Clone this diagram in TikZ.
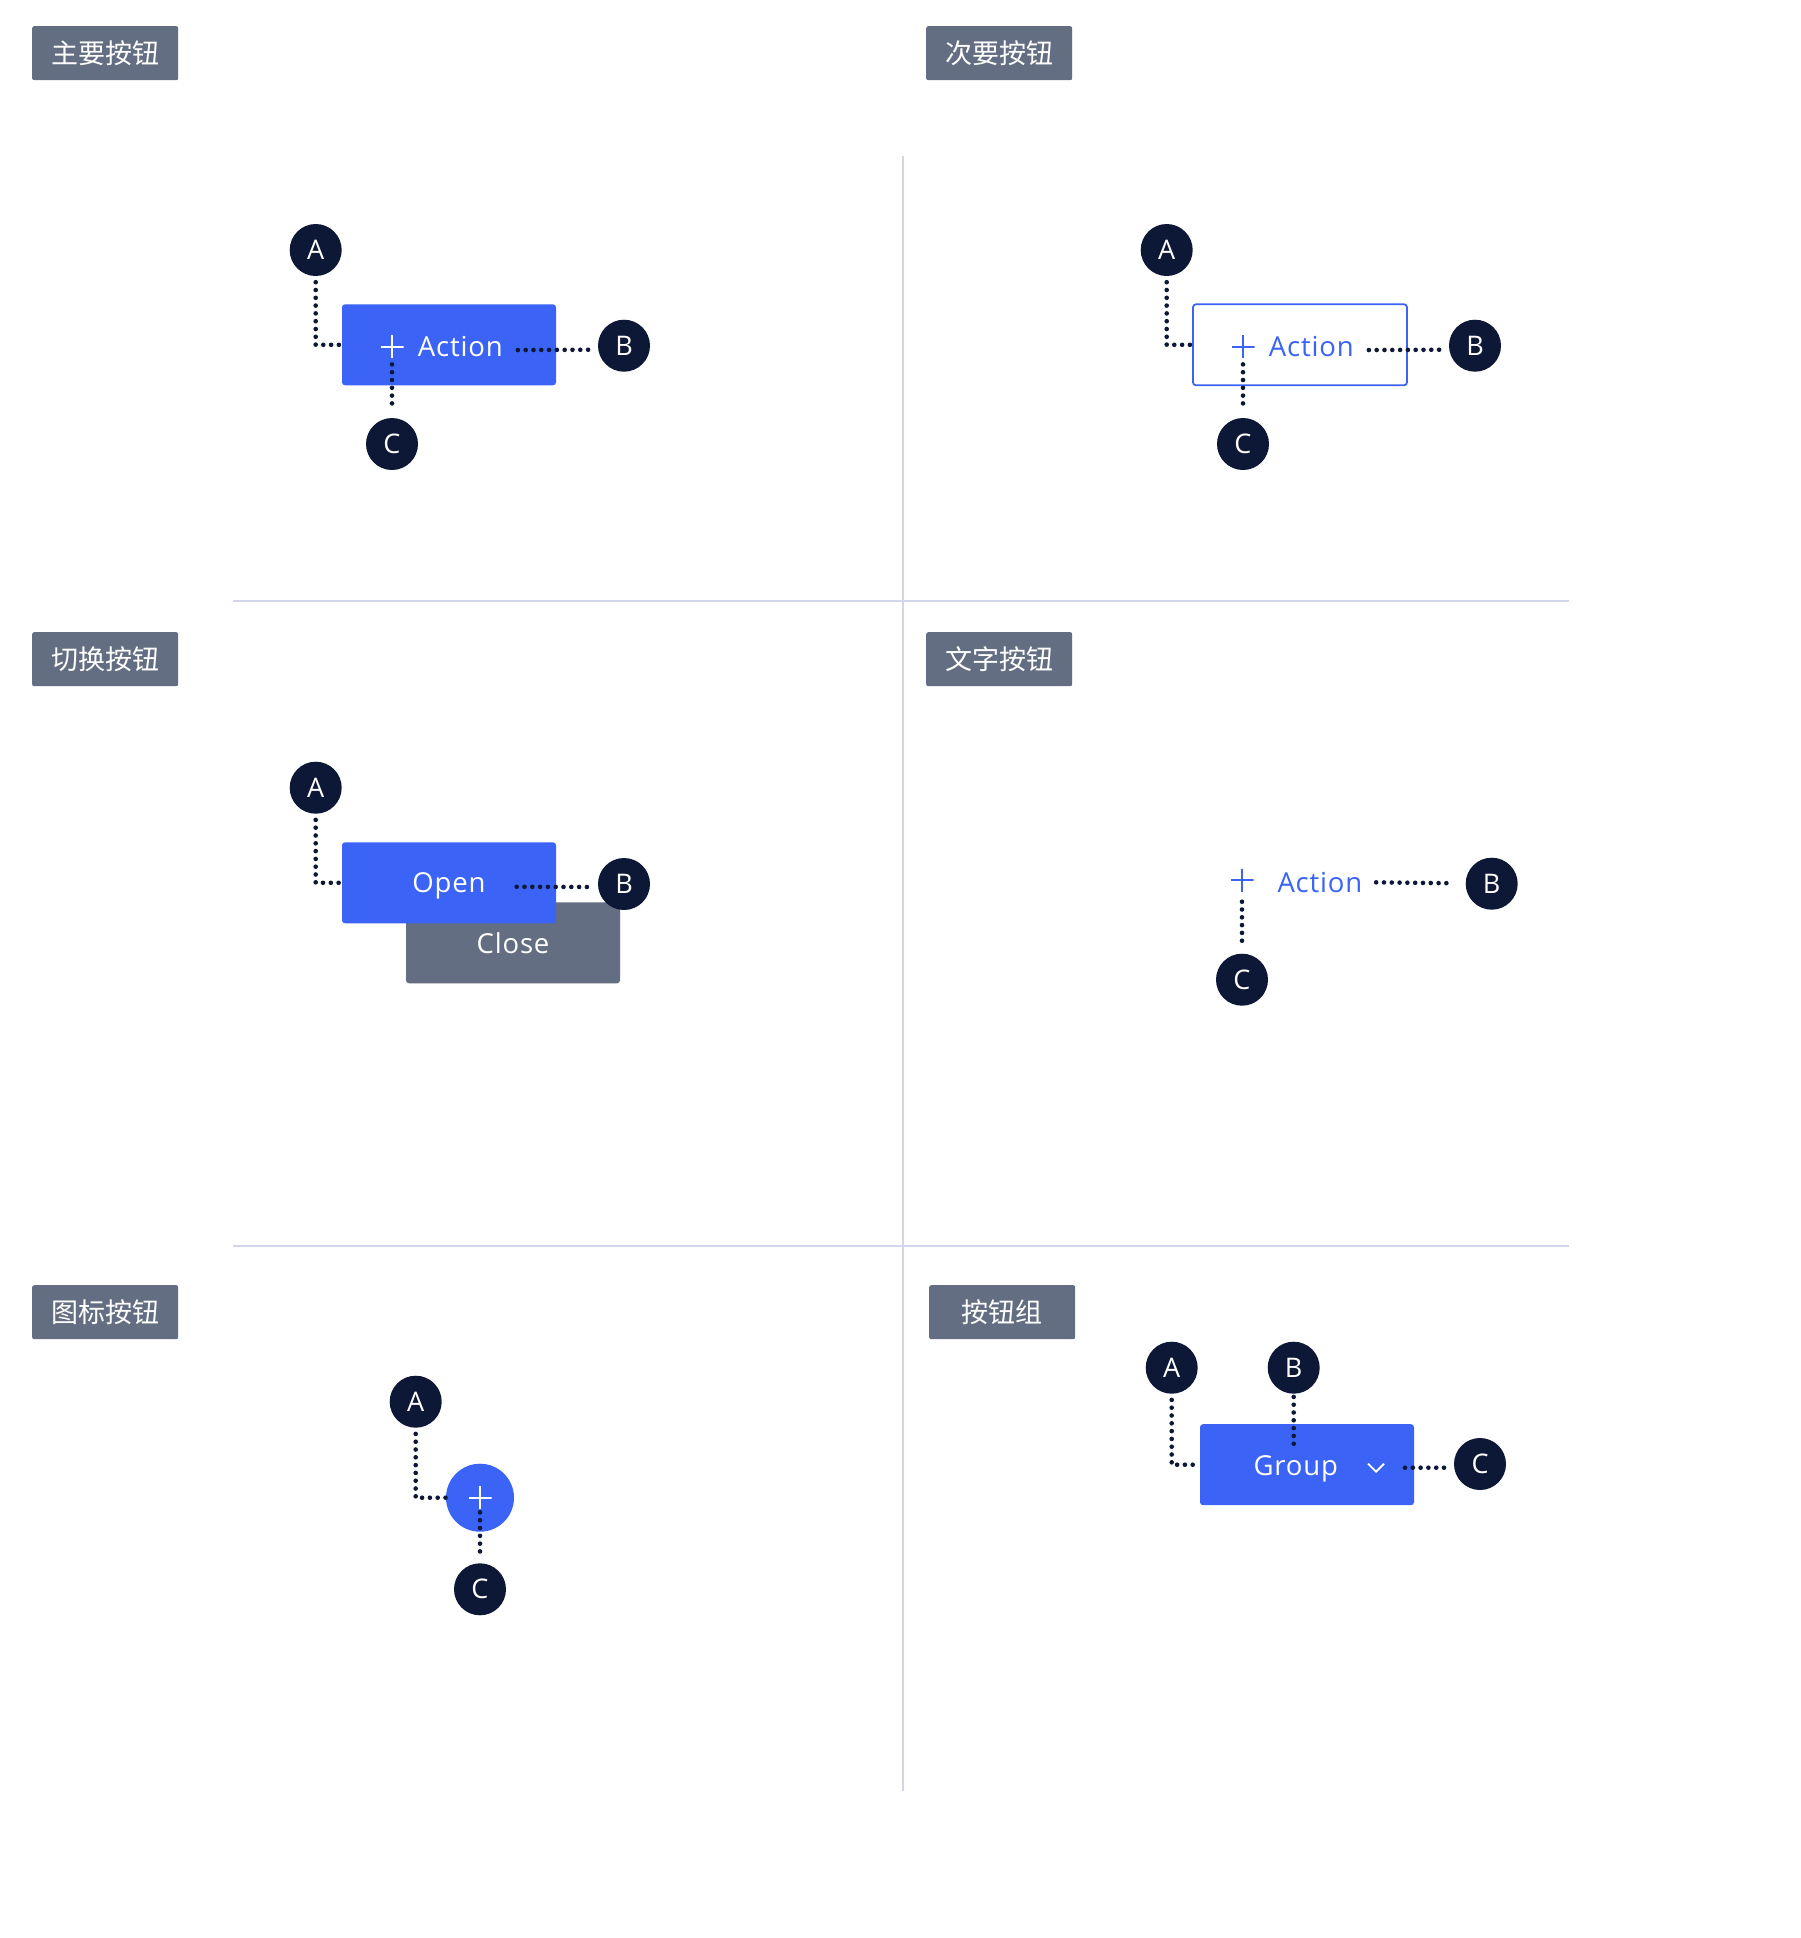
\documentclass[tikz,border=0pt]{standalone}
\usepackage{fontspec}
\setmainfont{Open Sans}[LetterSpace=3]
\newfontfamily\cjk{Noto Sans CJK SC}
\definecolor{btnblue}{HTML}{3B63F5}
\definecolor{navy}{HTML}{0D1836}
\definecolor{slate}{HTML}{646E82}
\definecolor{rulegray}{HTML}{D3D6EA}
\tikzset{
	secttag/.style={fill=slate, text=white, rounded corners=2pt, minimum width=146pt,
		minimum height=54pt, inner sep=0pt, anchor=north west, font=\cjk\fontsize{27}{27}\selectfont},
	badge/.style={circle, fill=navy, text=white, minimum size=52pt, inner sep=0pt,
		font=\fontsize{27}{27}\selectfont},
	btn/.style={fill=btnblue, rounded corners=3pt, minimum width=214pt, minimum height=81pt,
		inner sep=0pt, text depth=0pt, text=white, font=\fontsize{27.5}{27.5}\selectfont},
	btntext/.style={text=white, inner sep=0pt, font=\fontsize{27.5}{27.5}\selectfont},
	plusmark/.style={minimum size=23pt, inner sep=0pt, path picture={
		\draw[line width=2pt, #1] (path picture bounding box.north) -- (path picture bounding box.south)
			(path picture bounding box.west) -- (path picture bounding box.east);}},
	leader/.style={draw=navy, line width=4.6pt, line cap=round, dash pattern=on 0pt off 7.8pt},
	divider/.style={draw=rulegray, line width=2pt},
}
\begin{document}
\begin{tikzpicture}[x=1pt, y=-1pt]
		\fill[white] (0,0) rectangle (1800,1938);
		\useasboundingbox (0,0) rectangle (1800,1938);

		% dividers
		\draw[divider] (903,155.7) -- (903,1791);
		\draw[divider] (233,600.7) -- (1569,600.7);
		\draw[divider] (233,1245.7) -- (1569,1245.7);

		% section tags
		\node[secttag] (tagprimary) at (32,26) {主要按钮};
		\node[secttag] (tagsecond) at (926,26) {次要按钮};
		\node[secttag] (tagtoggle) at (32,632) {切换按钮};
		\node[secttag] (tagtext) at (926,632) {文字按钮};
		\node[secttag] (tagicon) at (32,1285) {图标按钮};
		\node[secttag] (taggroup) at (929,1285) {按钮组};

		% primary
		\node[btn] (pbtn) at (449,344.8) {};
		\node[plusmark=white] (pplus) at (392,346.7) {};
		\node[btntext, anchor=base west] (pact) at (417.7,356) {Action};
		\node[badge] (pa) at (315.7,250) {A};
		\node[badge] (pb) at (624,345.7) {B};
		\node[badge] (pc) at (392,444) {C};
		\draw[leader, shorten <=6pt] (pa) |- (pbtn.west);
		\draw[leader, shorten >=5pt] ([xshift=15pt,yshift=-4pt]pact.east) -- ([yshift=-4pt]pb.west);
		\draw[leader, shorten <=6pt, shorten >=9pt] (pplus.south) -- (pc);

		% secondary
		\node[btn, fill=white, draw=btnblue, line width=1.8pt] (sbtn) at (1300,344.8) {};
		\node[plusmark=btnblue] (splus) at (1243,346.7) {};
		\node[btntext, text=btnblue, anchor=base west] (sact) at (1268.7,356) {Action};
		\node[badge] (sa) at (1166.7,250) {A};
		\node[badge] (sb) at (1475,345.7) {B};
		\node[badge] (sc) at (1243,444) {C};
		\draw[leader, shorten <=6pt] (sa) |- (sbtn.west);
		\draw[leader, shorten >=5pt] ([xshift=15pt,yshift=-4pt]sact.east) -- ([yshift=-4pt]sb.west);
		\draw[leader, shorten <=6pt, shorten >=9pt] (splus.south) -- (sc);

		% toggle
		\node[btn, fill=slate] (tclose) at (513,942.8) {Close};
		\node[btn] (topen) at (449,882.8) {Open};
		\node[badge] (ta) at (315.7,787.7) {A};
		\node[badge] (tb) at (624,884) {B};
		\draw[leader, shorten <=6pt] (ta) |- (topen.west);
		\draw[leader, shorten >=5pt] ([xshift=67.7pt,yshift=-4pt]topen.center) -- ([yshift=-3pt]tb.west);

		% text button
		\node[plusmark=btnblue] (xplus) at (1242,880) {};
		\node[btntext, text=btnblue, anchor=base west] (xact) at (1277.3,892.3) {Action};
		\node[badge] (xb) at (1491.7,883.7) {B};
		\node[badge] (xc) at (1242,979.7) {C};
		\draw[leader, shorten >=16pt] ([xshift=13.7pt]xact.east) -- (xb);
		\draw[leader, shorten <=10pt, shorten >=9pt] (xplus.south) -- (xc);

		% icon button
		\node[circle, fill=btnblue, minimum size=68pt, inner sep=0pt] (ibtn) at (480,1497.7) {};
		\node[plusmark=white] (iplus) at (ibtn.center) {};
		\node[badge] (ia) at (415.7,1401.7) {A};
		\node[badge] (ic) at (480,1589.3) {C};
		\draw[leader, shorten <=6pt] (ia) |- (ibtn.west);
		\draw[leader, shorten <=3pt, shorten >=9pt] (iplus.south) -- (ic);

		% button group
		\node[btn] (gbtn) at (1307,1464.7) {};
		\node[btntext, anchor=base] (gtxt) at (1295.8,1475.7) {Group};
		\coordinate (gchev) at (1376,1467.7);
		\draw[white, line width=1.8pt] ([shift={(-8,-4)}]gchev) -- ([shift={(0,4)}]gchev) -- ([shift={(8,-4)}]gchev);
		\node[badge] (ga) at (1171.7,1367.7) {A};
		\node[badge] (gb) at (1293.7,1367.7) {B};
		\node[badge] (gc) at (1480,1464) {C};
		\draw[leader, shorten <=6pt] (ga) |- (gbtn.west);
		\draw[leader, shorten <=3pt, shorten >=9pt] (gb) -- (gb |- gtxt.north);
		\draw[leader, shorten >=5pt] ([xshift=29pt]gchev) -- (gc.west |- gchev);
\end{tikzpicture}
\end{document}
